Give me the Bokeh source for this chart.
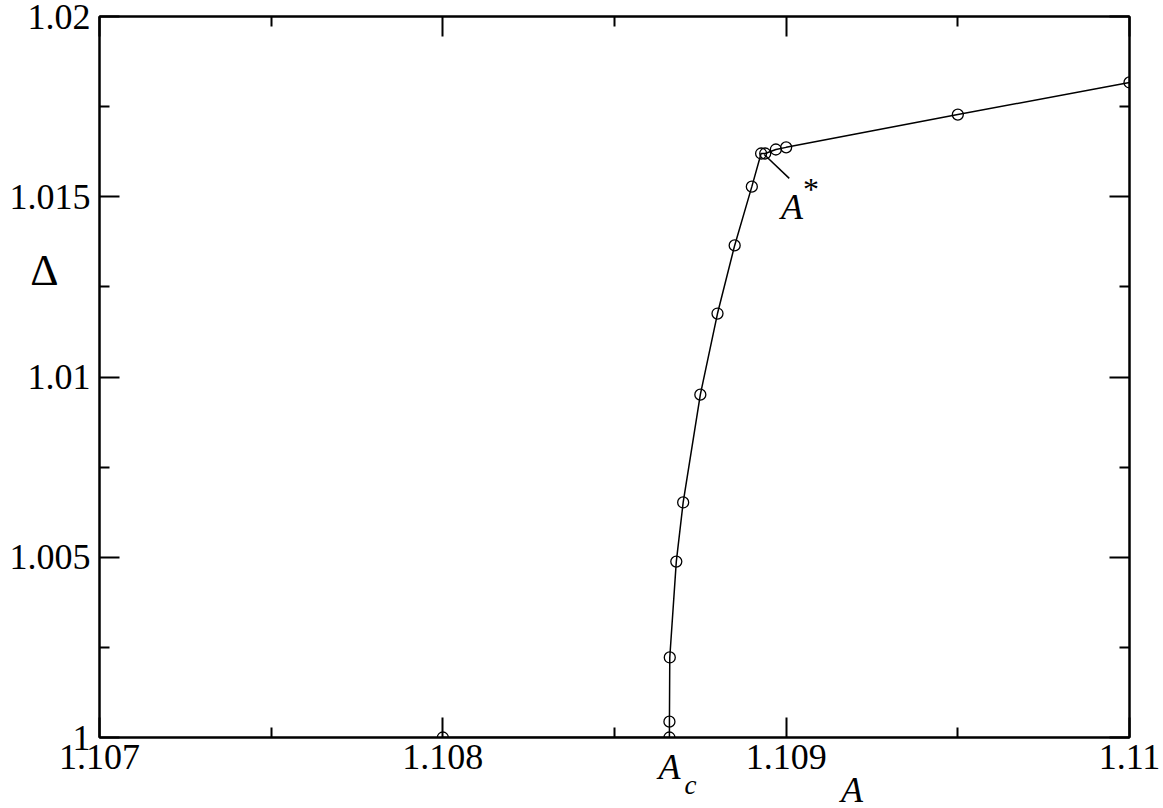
from bokeh.plotting import figure
from bokeh.models import (FixedTicker, LinearAxis, Range1d, CustomJSTickFormatter,
                          ColumnDataSource)
from bokeh.core.properties import value
from bokeh.embed import file_html
from bokeh.resources import INLINE

# ---- data ----
A_vals = [1.108, 1.10866, 1.10866, 1.108661, 1.10868, 1.1087, 1.10875, 1.1088,
          1.10885, 1.1089, 1.108927, 1.108939, 1.10897, 1.109, 1.1095, 1.11]
Delta_vals = [1.0, 1.0, 1.00044, 1.00222, 1.00488, 1.00652, 1.00951, 1.01176,
              1.01365, 1.01528, 1.0162, 1.0162, 1.01631, 1.01637, 1.01728, 1.01817]

x_major = [1.107, 1.108, 1.109, 1.11]
x_minor = [1.1075, 1.1085, 1.1095]
y_major = [1.0, 1.005, 1.01, 1.015, 1.02]
y_minor = [1.0025, 1.0075, 1.0125, 1.0175]

# annotation anchors (data coords)
Ac_x = 1.10866
Axis_label_x = 1.109192
Delta_label_y = 1.01245
Astar_x, Astar_y = 1.108985, 1.01434
leader_x0, leader_y0, leader_x1, leader_y1 = 1.108936, 1.01617, 1.109009, 1.01551

FONT = "Liberation Serif"

p = figure(width=1163, height=808, output_backend="svg", toolbar_location=None,
           x_range=Range1d(1.107, 1.11), y_range=Range1d(1.0, 1.02),
           min_border_left=99, min_border_top=16, min_border_right=34, min_border_bottom=71)
p.xgrid.visible = False
p.ygrid.visible = False
p.background_fill_color = "white"
p.border_fill_color = "white"
p.outline_line_color = "black"
p.outline_line_width = 2

fmt = CustomJSTickFormatter(code="""
var s = tick.toFixed(3);
s = s.replace(/0+$/, '');
s = s.replace(/\\.$/, '');
return s;
""")
blank = CustomJSTickFormatter(code="return '';")

def style_axis(ax, ticks, minor, labels=True):
    ax.ticker = FixedTicker(ticks=ticks, minor_ticks=minor)
    ax.major_tick_in = 20
    ax.major_tick_out = 0
    ax.minor_tick_in = 10
    ax.minor_tick_out = 0
    ax.axis_line_width = 2
    ax.major_tick_line_width = 2
    ax.minor_tick_line_width = 2
    ax.axis_line_color = "black"
    ax.major_tick_line_color = "black"
    ax.minor_tick_line_color = "black"
    if labels:
        ax.formatter = fmt
        ax.major_label_text_font = FONT
        ax.major_label_text_font_size = "36px"
        ax.major_label_text_color = "black"
    else:
        ax.formatter = blank
        ax.major_label_text_font_size = "0px"
        ax.major_label_standoff = 0

style_axis(p.xaxis[0], x_major, x_minor)
p.xaxis[0].major_label_standoff = 7
style_axis(p.yaxis[0], y_major, y_minor)
p.yaxis[0].major_label_standoff = 9

top = LinearAxis()
style_axis(top, x_major, x_minor, labels=False)
p.add_layout(top, "above")
right = LinearAxis()
style_axis(right, y_major, y_minor, labels=False)
p.add_layout(right, "right")

src = ColumnDataSource(dict(A=A_vals, D=Delta_vals))
p.line("A", "D", source=src, line_color="black", line_width=1.5)
p.scatter("A", "D", source=src, marker="circle", size=11, fill_color=None,
          line_color="black", line_width=1.3)

# leader line for A*
p.segment(x0=[leader_x0], y0=[leader_y0], x1=[leader_x1], y1=[leader_y1],
          line_color="black", line_width=1.5)

# texts: glyphs anchored on data points / frame edge, shifted in pixels,
# drawn at overlay level so those outside the frame are not clipped
def put_text(x, y, text, size, style, align, dx, dy):
    p.text(x=[x], y=[y], text=[text], text_font=value(FONT), text_font_size=size,
           text_font_style=style, text_align=align, text_baseline="alphabetic",
           text_color="black", x_offset=dx, y_offset=dy, level="overlay")

put_text(Ac_x, 1.0, "A", "36px", "italic", "center", 0, 29)
put_text(Ac_x, 1.0, "c", "27px", "italic", "left", 15, 47)
put_text(Axis_label_x, 1.0, "A", "36px", "italic", "center", 0, 52)
put_text(1.107, Delta_label_y, "Δ", "44px", "normal", "center", -55, -18)
put_text(Astar_x, Astar_y, "A", "36px", "italic", "left", 0, -14)
put_text(Astar_x, Astar_y, "*", "32px", "normal", "left", 22, -32)

open("out.html", "w").write(file_html(p, INLINE))
